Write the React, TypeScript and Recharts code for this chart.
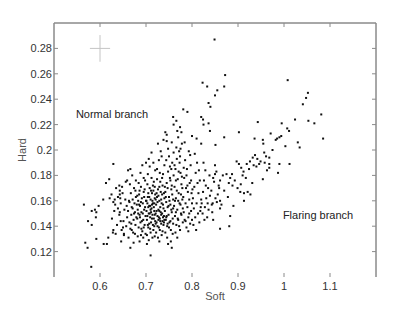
import React from 'react';
import { ScatterChart, Scatter, XAxis, YAxis, ErrorBar, ReferenceDot, ReferenceLine } from 'recharts';

// [soft, hard] pairs
const sparseLeft: number[][] = [
  [0.565, 0.157], [0.568, 0.127], [0.573, 0.123], [0.581, 0.108], [0.574, 0.144], [0.582, 0.141],
  [0.582, 0.152], [0.589, 0.153], [0.592, 0.151], [0.591, 0.147], [0.592, 0.130], [0.597, 0.156],
  [0.607, 0.161], [0.608, 0.126], [0.615, 0.126], [0.618, 0.131], [0.613, 0.174], [0.620, 0.177],
  [0.629, 0.189], [0.625, 0.165], [0.629, 0.159], [0.632, 0.161], [0.629, 0.137], [0.634, 0.134],
  [0.642, 0.172], [0.643, 0.168], [0.643, 0.165], [0.639, 0.154], [0.643, 0.151], [0.645, 0.144],
  [0.650, 0.139], [0.652, 0.134], [0.659, 0.176], [0.661, 0.184], [0.666, 0.123], [0.710, 0.117],
  [0.756, 0.123], [0.621, 0.162], [0.626, 0.146], [0.633, 0.157], [0.637, 0.141], [0.628, 0.135],
  [0.635, 0.170], [0.639, 0.163], [0.631, 0.152],
];

const clusterLow: number[][] = [
  [0.642, 0.149], [0.645, 0.158], [0.647, 0.137], [0.649, 0.166], [0.651, 0.144], [0.653, 0.153],
  [0.655, 0.161], [0.648, 0.171], [0.657, 0.140], [0.659, 0.147], [0.652, 0.133], [0.656, 0.175],
  [0.644, 0.162], [0.658, 0.156], [0.646, 0.128],
  [0.661, 0.152], [0.663, 0.160], [0.664, 0.143], [0.666, 0.138], [0.667, 0.166], [0.668, 0.149],
  [0.669, 0.155], [0.671, 0.161], [0.672, 0.135], [0.673, 0.145], [0.674, 0.170], [0.675, 0.158],
  [0.676, 0.151], [0.677, 0.141], [0.678, 0.163], [0.679, 0.147], [0.662, 0.131], [0.665, 0.173],
  [0.670, 0.180], [0.673, 0.127], [0.676, 0.134], [0.678, 0.176], [0.664, 0.159], [0.668, 0.142],
  [0.671, 0.154], [0.674, 0.150], [0.677, 0.168], [0.669, 0.137], [0.680, 0.157], [0.666, 0.185],
  [0.681, 0.146], [0.682, 0.153], [0.683, 0.160], [0.684, 0.139], [0.685, 0.165], [0.686, 0.149],
  [0.687, 0.156], [0.688, 0.143], [0.689, 0.171], [0.690, 0.151], [0.691, 0.162], [0.692, 0.136],
  [0.693, 0.158], [0.694, 0.145], [0.695, 0.167], [0.696, 0.153], [0.697, 0.141], [0.698, 0.176],
  [0.699, 0.148], [0.700, 0.160], [0.682, 0.132], [0.684, 0.174], [0.686, 0.128], [0.688, 0.182],
  [0.690, 0.138], [0.692, 0.188], [0.694, 0.131], [0.696, 0.163], [0.698, 0.155], [0.685, 0.157],
  [0.687, 0.147], [0.689, 0.159], [0.691, 0.144], [0.693, 0.150], [0.695, 0.139], [0.697, 0.169],
  [0.699, 0.134], [0.683, 0.150], [0.681, 0.164], [0.700, 0.190], [0.695, 0.178], [0.689, 0.133],
  [0.686, 0.168],
];

const clusterMid: number[][] = [
  [0.701, 0.152], [0.702, 0.145], [0.703, 0.158], [0.704, 0.163], [0.705, 0.139], [0.706, 0.150],
  [0.707, 0.156], [0.708, 0.170], [0.709, 0.147], [0.710, 0.161], [0.711, 0.143], [0.712, 0.154],
  [0.713, 0.166], [0.714, 0.149], [0.715, 0.158], [0.716, 0.137], [0.717, 0.175], [0.718, 0.152],
  [0.719, 0.162], [0.720, 0.144], [0.702, 0.133], [0.704, 0.181], [0.706, 0.129], [0.708, 0.187],
  [0.710, 0.135], [0.712, 0.178], [0.714, 0.131], [0.716, 0.168], [0.718, 0.140], [0.720, 0.184],
  [0.703, 0.148], [0.705, 0.166], [0.707, 0.142], [0.709, 0.156], [0.711, 0.151], [0.713, 0.146],
  [0.715, 0.172], [0.717, 0.155], [0.719, 0.149], [0.701, 0.160], [0.703, 0.173], [0.705, 0.155],
  [0.707, 0.163], [0.709, 0.138], [0.711, 0.168], [0.713, 0.157], [0.715, 0.141], [0.717, 0.146],
  [0.719, 0.171], [0.706, 0.193], [0.712, 0.198], [0.716, 0.190], [0.708, 0.150], [0.714, 0.160],
  [0.710, 0.153], [0.718, 0.158], [0.704, 0.141], [0.720, 0.165], [0.702, 0.126], [0.719, 0.132],
  [0.721, 0.150], [0.722, 0.157], [0.723, 0.143], [0.724, 0.163], [0.725, 0.148], [0.726, 0.169],
  [0.727, 0.153], [0.728, 0.139], [0.729, 0.160], [0.730, 0.146], [0.731, 0.175], [0.732, 0.151],
  [0.733, 0.142], [0.734, 0.158], [0.735, 0.165], [0.736, 0.144], [0.737, 0.181], [0.738, 0.154],
  [0.739, 0.148], [0.740, 0.162], [0.722, 0.135], [0.724, 0.185], [0.726, 0.131], [0.728, 0.192],
  [0.730, 0.137], [0.732, 0.199], [0.734, 0.133], [0.736, 0.172], [0.738, 0.141], [0.740, 0.188],
  [0.723, 0.166], [0.725, 0.159], [0.727, 0.145], [0.729, 0.171], [0.731, 0.155], [0.733, 0.149],
  [0.735, 0.178], [0.737, 0.147], [0.739, 0.166], [0.721, 0.142], [0.723, 0.152], [0.725, 0.140],
  [0.727, 0.164], [0.729, 0.152], [0.731, 0.144], [0.733, 0.161], [0.735, 0.150], [0.737, 0.157],
  [0.739, 0.143], [0.726, 0.205], [0.734, 0.195], [0.738, 0.208], [0.730, 0.182], [0.724, 0.177],
  [0.736, 0.136], [0.728, 0.147], [0.732, 0.167], [0.740, 0.145], [0.721, 0.161], [0.729, 0.128],
];

const clusterHigh: number[][] = [
  [0.741, 0.152], [0.742, 0.167], [0.743, 0.145], [0.744, 0.159], [0.745, 0.174], [0.746, 0.140],
  [0.747, 0.155], [0.748, 0.183], [0.749, 0.149], [0.750, 0.163], [0.751, 0.143], [0.752, 0.178],
  [0.753, 0.157], [0.754, 0.137], [0.755, 0.169], [0.756, 0.151], [0.757, 0.190], [0.758, 0.146],
  [0.759, 0.161], [0.760, 0.198], [0.742, 0.135], [0.744, 0.192], [0.746, 0.131], [0.748, 0.201],
  [0.750, 0.139], [0.752, 0.187], [0.754, 0.128], [0.756, 0.172], [0.758, 0.134], [0.760, 0.180],
  [0.743, 0.163], [0.745, 0.148], [0.747, 0.170], [0.749, 0.156], [0.751, 0.160], [0.753, 0.144],
  [0.755, 0.153], [0.757, 0.165], [0.759, 0.142], [0.745, 0.207], [0.750, 0.195], [0.755, 0.185],
  [0.747, 0.142], [0.753, 0.176], [0.741, 0.171], [0.759, 0.154], [0.744, 0.147], [0.756, 0.206],
  [0.748, 0.126],
  [0.761, 0.156], [0.762, 0.171], [0.763, 0.148], [0.764, 0.185], [0.765, 0.162], [0.766, 0.141],
  [0.767, 0.193], [0.768, 0.153], [0.769, 0.177], [0.770, 0.145], [0.771, 0.166], [0.772, 0.199],
  [0.773, 0.158], [0.774, 0.137], [0.775, 0.182], [0.776, 0.150], [0.777, 0.173], [0.778, 0.205],
  [0.779, 0.161], [0.780, 0.143], [0.762, 0.188], [0.764, 0.135], [0.766, 0.202], [0.768, 0.131],
  [0.770, 0.210], [0.772, 0.140], [0.774, 0.195], [0.776, 0.165], [0.778, 0.179], [0.780, 0.154],
  [0.763, 0.160], [0.765, 0.151], [0.767, 0.168], [0.769, 0.146], [0.771, 0.183], [0.773, 0.190],
  [0.775, 0.157], [0.777, 0.149], [0.779, 0.170], [0.768, 0.215], [0.775, 0.201], [0.765, 0.176],
  [0.770, 0.160],
  [0.781, 0.163], [0.782, 0.151], [0.783, 0.178], [0.784, 0.145], [0.785, 0.192], [0.786, 0.158],
  [0.787, 0.170], [0.788, 0.139], [0.789, 0.185], [0.790, 0.155], [0.791, 0.167], [0.792, 0.147],
  [0.793, 0.199], [0.794, 0.161], [0.795, 0.174], [0.796, 0.142], [0.797, 0.188], [0.798, 0.152],
  [0.799, 0.166], [0.800, 0.158], [0.784, 0.206], [0.788, 0.180], [0.792, 0.136], [0.796, 0.196],
  [0.786, 0.144], [0.790, 0.172], [0.794, 0.150], [0.798, 0.176], [0.782, 0.186], [0.800, 0.145],
  [0.802, 0.162], [0.804, 0.154], [0.805, 0.171], [0.807, 0.147], [0.808, 0.182], [0.810, 0.158],
  [0.811, 0.190], [0.813, 0.150], [0.814, 0.166], [0.816, 0.143], [0.817, 0.176], [0.819, 0.155],
  [0.820, 0.161], [0.803, 0.141], [0.806, 0.197], [0.809, 0.137], [0.812, 0.174], [0.815, 0.184],
  [0.818, 0.152], [0.801, 0.169],
  [0.821, 0.158], [0.823, 0.150], [0.824, 0.167], [0.826, 0.176], [0.828, 0.155], [0.829, 0.184],
  [0.831, 0.162], [0.833, 0.147], [0.835, 0.170], [0.836, 0.153], [0.838, 0.180], [0.839, 0.164],
  [0.825, 0.190], [0.830, 0.172], [0.834, 0.158], [0.827, 0.145],
  [0.842, 0.168], [0.845, 0.158], [0.848, 0.175], [0.851, 0.162], [0.853, 0.183], [0.856, 0.165],
  [0.859, 0.170], [0.844, 0.151], [0.850, 0.188],
];

const upperTail: number[][] = [
  [0.849, 0.287], [0.872, 0.259], [0.870, 0.250], [0.823, 0.253], [0.833, 0.250], [0.855, 0.247],
  [0.850, 0.243], [0.836, 0.237], [0.840, 0.234], [0.781, 0.232], [0.790, 0.230], [0.820, 0.226],
  [0.824, 0.224], [0.836, 0.221], [0.759, 0.226], [0.766, 0.223], [0.760, 0.220], [0.825, 0.220],
  [0.742, 0.214], [0.745, 0.212], [0.774, 0.218], [0.777, 0.214], [0.870, 0.210], [0.820, 0.205],
  [0.851, 0.204], [0.839, 0.215], [0.800, 0.211], [0.810, 0.209],
];

const flaringBranch: number[][] = [
  [1.008, 0.255], [1.052, 0.245], [1.048, 0.241], [1.041, 0.236], [1.081, 0.228], [1.053, 0.223],
  [1.066, 0.221], [1.024, 0.224], [0.943, 0.222], [0.902, 0.214], [1.085, 0.209], [1.030, 0.206],
  [1.034, 0.202], [1.003, 0.203], [1.011, 0.215], [1.007, 0.217], [0.995, 0.221], [0.994, 0.211],
  [0.990, 0.210], [0.985, 0.209], [0.982, 0.208], [0.971, 0.213], [0.954, 0.208], [0.936, 0.209],
  [0.955, 0.205], [0.957, 0.198], [0.961, 0.195], [0.968, 0.194], [0.968, 0.189], [0.968, 0.186],
  [0.963, 0.184], [0.987, 0.182], [0.990, 0.189], [1.012, 0.189], [0.954, 0.177], [0.897, 0.191],
  [0.902, 0.189], [0.907, 0.186], [0.912, 0.183], [0.910, 0.180], [0.906, 0.173], [0.919, 0.189],
  [0.926, 0.191], [0.932, 0.194], [0.937, 0.196], [0.942, 0.193], [0.946, 0.189], [0.949, 0.191],
  [0.934, 0.188], [0.940, 0.187], [0.931, 0.174], [0.927, 0.165], [0.921, 0.167], [0.913, 0.166],
  [0.913, 0.160], [0.887, 0.181], [0.883, 0.178], [0.880, 0.174], [0.888, 0.172], [0.875, 0.181],
  [0.867, 0.180], [0.861, 0.176], [0.858, 0.172], [0.850, 0.181], [0.846, 0.178], [0.890, 0.156],
  [0.883, 0.148], [0.881, 0.140], [0.861, 0.138], [0.846, 0.145], [0.843, 0.157], [0.854, 0.159],
  [0.861, 0.160], [0.864, 0.157], [0.861, 0.154], [0.899, 0.170], [0.905, 0.167], [0.870, 0.168],
  [0.878, 0.163], [0.893, 0.176], [0.917, 0.178], [0.924, 0.185], [0.958, 0.190], [0.975, 0.200],
];

const errorCross = [{ x: 0.6, y: 0.28, ex: 0.022, ey: 0.0105 }];

const xDomain = [0.5, 1.2];
const yDomain = [0.1, 0.3];
const xTicks = [0.6, 0.7, 0.8, 0.9, 1.0, 1.1];
const yTicks = [0.12, 0.14, 0.16, 0.18, 0.2, 0.22, 0.24, 0.26, 0.28];

const normalLabel = { x: 0.626, y: 0.228, text: 'Normal branch' };
const flaringLabel = { x: 1.074, y: 0.149, text: 'Flaring branch' };

const points = [...sparseLeft, ...clusterLow, ...clusterMid, ...clusterHigh, ...upperTail, ...flaringBranch].map(
  ([x, y]) => ({ x, y })
);

const FONT = '"Liberation Sans", Arial, sans-serif';
const AXIS = '#8a8a8a';
const TICK_LEN = 4;

const fmtX = (v: number) => String(Number(v.toFixed(1)));
const fmtY = (v: number) => String(Number(v.toFixed(2)));

// bottom axis: label below, tick pointing up into the plot
const BottomTick = (p: any) => (
  <g>
    <line x1={p.x} x2={p.x} y1={p.y - 5} y2={p.y - 5 - TICK_LEN} stroke={AXIS} />
    <text x={p.x} y={p.y} dy="0.71em" textAnchor="middle" fill="#333" fontSize={11} fontFamily={FONT}>
      {fmtX(p.payload.value)}
    </text>
  </g>
);
// left axis: label left, tick pointing right into the plot
const LeftTick = (p: any) => (
  <g>
    <line x1={p.x + 2} x2={p.x + 2 + TICK_LEN} y1={p.y} y2={p.y} stroke={AXIS} />
    <text x={p.x} y={p.y} dy="0.355em" textAnchor="end" fill="#333" fontSize={11} fontFamily={FONT}>
      {fmtY(p.payload.value)}
    </text>
  </g>
);
const TopTick = (p: any) => <line x1={p.x} x2={p.x} y1={p.y} y2={p.y + TICK_LEN} stroke={AXIS} />;
const RightTick = (p: any) => <line x1={p.x} x2={p.x - TICK_LEN} y1={p.y} y2={p.y} stroke={AXIS} />;

const Dot = (p: any) => <rect x={p.cx - 1} y={p.cy - 1} width={2} height={2} fill="#111" />;
const NoShape = () => <g />;

export default function App() {
  return (
    <div style={{ position: 'absolute', left: 0, top: 0, width: 415, height: 312, background: '#fff' }}>
      <ScatterChart width={415} height={312} margin={{ top: 22, right: 38, left: 0, bottom: 0 }}>
        <XAxis
          xAxisId="x"
          type="number"
          dataKey="x"
          domain={xDomain}
          allowDataOverflow
          ticks={xTicks}
          axisLine={false}
          tickLine={false}
          tickSize={0}
          tickMargin={5}
          height={35}
          tick={BottomTick}
          label={{ value: 'Soft', position: 'insideBottom', offset: 12, fill: '#555', fontSize: 11, fontFamily: FONT }}
        />
        <XAxis
          xAxisId="xt"
          type="number"
          dataKey="x"
          domain={xDomain}
          allowDataOverflow
          ticks={xTicks}
          orientation="top"
          height={1}
          tickSize={0}
          tickMargin={0}
          tickLine={false}
          axisLine={{ stroke: AXIS }}
          tick={TopTick}
        />
        <YAxis
          yAxisId="y"
          type="number"
          dataKey="y"
          domain={yDomain}
          allowDataOverflow
          ticks={yTicks}
          width={54}
          axisLine={{ stroke: AXIS }}
          tickLine={false}
          tickSize={0}
          tickMargin={2}
          tick={LeftTick}
          label={{ value: 'Hard', angle: -90, position: 'insideLeft', offset: 22, fill: '#555', fontSize: 11, fontFamily: FONT, style: { textAnchor: 'middle' } }}
        />
        <YAxis
          yAxisId="yr"
          type="number"
          dataKey="y"
          domain={yDomain}
          allowDataOverflow
          ticks={yTicks}
          orientation="right"
          width={1}
          tickSize={0}
          tickMargin={0}
          tickLine={false}
          axisLine={{ stroke: AXIS }}
          tick={RightTick}
        />

        <ReferenceLine xAxisId="x" yAxisId="y" x={xDomain[0]} stroke={AXIS} ifOverflow="visible" />
        <ReferenceLine xAxisId="x" yAxisId="y" x={xDomain[1]} stroke={AXIS} ifOverflow="visible" />
        <ReferenceLine xAxisId="x" yAxisId="y" y={yDomain[1]} stroke={AXIS} ifOverflow="visible" />

        <Scatter xAxisId="xt" yAxisId="yr" data={errorCross} shape={NoShape} isAnimationActive={false} />

        <Scatter xAxisId="x" yAxisId="y" data={points} shape={Dot} isAnimationActive={false} />
        <Scatter xAxisId="x" yAxisId="y" data={errorCross} shape={NoShape} isAnimationActive={false}>
          <ErrorBar dataKey="ex" direction="x" width={0} stroke="#c4c4c4" strokeWidth={1} />
          <ErrorBar dataKey="ey" direction="y" width={0} stroke="#c4c4c4" strokeWidth={1} />
        </Scatter>
        <ReferenceDot xAxisId="x" yAxisId="y" x={normalLabel.x} y={normalLabel.y} r={1} fill="none" stroke="none"
          label={{ value: normalLabel.text, position: 'center', fill: '#222', fontSize: 11, fontFamily: FONT }} />
        <ReferenceDot xAxisId="x" yAxisId="y" x={flaringLabel.x} y={flaringLabel.y} r={1} fill="none" stroke="none"
          label={{ value: flaringLabel.text, position: 'center', fill: '#222', fontSize: 11, fontFamily: FONT }} />
      </ScatterChart>
    </div>
  );
}
